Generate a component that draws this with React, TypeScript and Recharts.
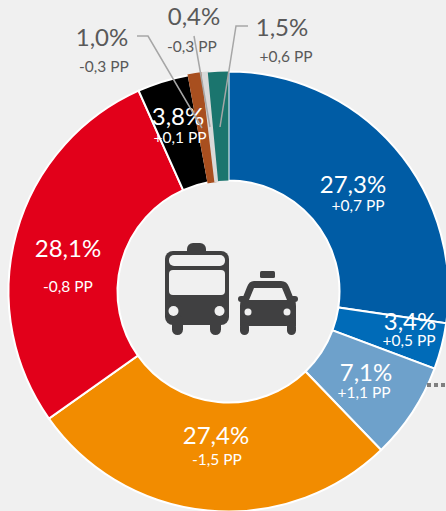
import { PieChart, Pie, Cell } from 'recharts';

const shares = [27.3, 3.4, 7.1, 27.4, 28.1, 3.8, 1.0, 0.4, 1.5];
const shareLabels = ['27,3%', '3,4%', '7,1%', '27,4%', '28,1%', '3,8%', '1,0%', '0,4%', '1,5%'];
const changeLabels = ['+0,7 PP', '+0,5 PP', '+1,1 PP', '-1,5 PP', '-0,8 PP', '+0,1 PP', '-0,3 PP', '-0,3 PP', '+0,6 PP'];
const colors = ['#005ca5', '#006bb8', '#6ea1cb', '#f28c00', '#e2001a', '#000000', '#a84f1f', '#d9d9d9', '#1b756e'];

const chartData = shares.map((value, i) => ({ name: shareLabels[i], value }));

// hand placed label spots: [share x, share y, change x, change y]
const labelSpots = [
  [353, 193, 358, 211],
  [410, 330, 409, 346],
  [366, 381, 364, 398],
  [216, 444, 217, 465],
  [68, 257, 68, 292],
  [178, 125, 180, 143],
  [102, 46, 104, 72],
  [194, 25, 192, 52],
  [282, 36, 286, 62],
];

const leaderLines: Record<number, string> = {
  6: '137,36 148,36 202,128',
  7: '194,36 210,127',
  8: '248,26 236,26 220,127',
};

const DARK_TEXT = '#595959';
const outsideLabels = [6, 7, 8];

function SliceLabel({ index }: { index: number }) {
  const [sx, sy, cx, cy] = labelSpots[index];
  const fill = outsideLabels.includes(index) ? DARK_TEXT : '#ffffff';
  return (
    <g>
      {leaderLines[index] && (
        <polyline points={leaderLines[index]} fill="none" stroke="#a6a6a6" strokeWidth={1.5} />
      )}
      {index === 2 && (
        <line x1={427} y1={385} x2={446} y2={385} stroke="#7f7f7f" strokeWidth={4} strokeDasharray="4 3" />
      )}
      <text x={sx} y={sy} textAnchor="middle" fontSize={24} fill={fill}>
        {shareLabels[index]}
      </text>
      <text x={cx} y={cy} textAnchor="middle" fontSize={15.5} fill={fill}>
        {changeLabels[index]}
      </text>
    </g>
  );
}

function TransportIcon() {
  const ink = '#404041';
  const bg = '#f0f0f0';
  return (
    <svg width={446} height={511} style={{ position: 'absolute', left: 0, top: 0, pointerEvents: 'none' }}>
      {/* bus */}
      <rect x={187} y={243} width={19} height={14} rx={6} fill={ink} />
      <rect x={165} y={251} width={64} height={74} rx={8} fill={ink} />
      <rect x={172} y={315} width={11} height={20} rx={5.5} fill={ink} />
      <rect x={210} y={315} width={11} height={20} rx={5.5} fill={ink} />
      <rect x={169} y={255} width={56} height={11} rx={5} fill={bg} />
      <rect x={169} y={270} width={56} height={25} rx={4} fill={bg} />
      <circle cx={173.5} cy={311} r={5} fill={bg} />
      <circle cx={219.5} cy={311} r={5} fill={bg} />
      {/* taxi */}
      <rect x={260} y={271} width={15} height={7} rx={1.5} fill={ink} />
      <path d="M254 281 H281 Q287 281 289 287 L293 297 Q296 300 296 306 V326 H240 V306 Q240 300 243 297 L247 287 Q249 281 254 281 Z" fill={ink} />
      <rect x={238} y={296} width={9} height={6} rx={3} fill={ink} />
      <rect x={289} y={296} width={9} height={6} rx={3} fill={ink} />
      <rect x={240} y={322} width={9} height={13} rx={4.5} fill={ink} />
      <rect x={287} y={322} width={9} height={13} rx={4.5} fill={ink} />
      <path d="M254 288 H282 L287 300 H249 Z" fill={bg} />
      <circle cx={248} cy={312} r={3.5} fill={bg} />
      <circle cx={287} cy={312} r={3.5} fill={bg} />
    </svg>
  );
}

export default function App() {
  return (
    <div
      style={{
        position: 'absolute',
        left: 0,
        top: 0,
        width: 446,
        height: 511,
        overflow: 'hidden',
        background: '#f0f0f0',
        fontFamily: 'Lato, sans-serif',
      }}
    >
      <PieChart width={446} height={511} margin={{ top: 0, right: 0, bottom: 0, left: 0 }}>
        <Pie
          data={chartData}
          dataKey="value"
          cx={228.5}
          cy={291.5}
          innerRadius={111}
          outerRadius={220}
          startAngle={90}
          endAngle={-270}
          stroke="#ffffff"
          strokeWidth={2}
          labelLine={false}
          label={(props: { index: number }) => <SliceLabel index={props.index} />}
          isAnimationActive={false}
        >
          {chartData.map((entry, i) => (
            <Cell
              key={entry.name}
              fill={colors[i]}
              stroke={i === 6 || i === 7 ? colors[i] : i === 8 ? 'none' : '#ffffff'}
            />
          ))}
        </Pie>
      </PieChart>
      <TransportIcon />
    </div>
  );
}
